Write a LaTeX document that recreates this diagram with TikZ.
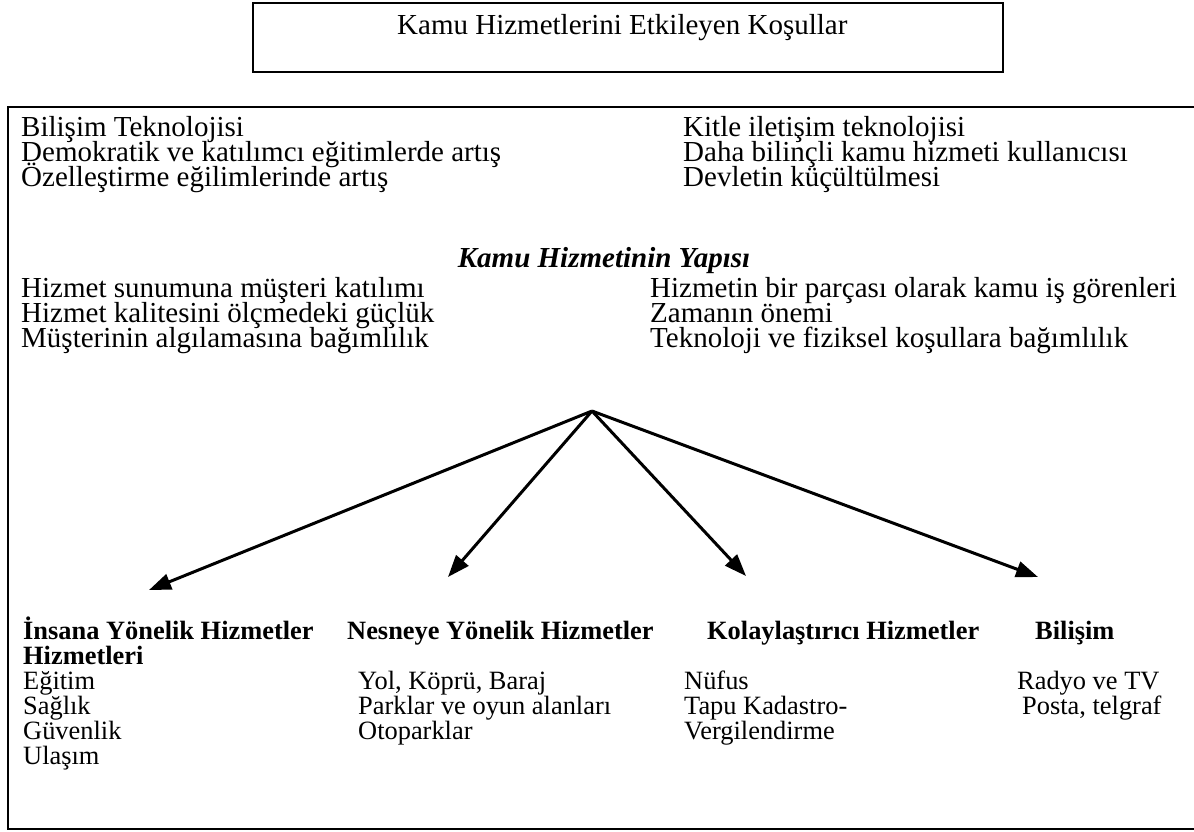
\documentclass[tikz,border=0pt]{standalone}
\usepackage{fontspec}
\setmainfont{Liberation Serif}
\usetikzlibrary{arrows.meta}
% fixed baseline distance inside multi-line blocks
\newcommand\fixedlines{\lineskiplimit=-100pt\relax\lineskip=0pt\relax}
\begin{document}
\begin{tikzpicture}[x=1pt,y=-1pt,
  big/.style={anchor=base west,inner sep=0pt,font=\fontsize{29}{25}\selectfont},
  % multi-line blocks: the base anchor sits on the baseline of the last line
  block/.style={anchor=base west,inner sep=0pt,align=left,
    font=\fontsize{29}{25}\selectfont\fixedlines},
  sblock/.style={anchor=base west,inner sep=0pt,align=left,
    font=\fontsize{26.4}{25}\selectfont\fixedlines},
  hblock/.style={anchor=base west,inner sep=0pt,align=left,
    font=\fontsize{26.4}{25}\selectfont\bfseries\fixedlines},
  hd/.style={anchor=base west,inner sep=0pt,font=\fontsize{26.4}{25}\selectfont\bfseries},
  frame/.style={draw=black,line width=2.5pt},
  arr/.style={line width=3pt,-{Triangle[length=22pt,width=16pt]}}]
\useasboundingbox (0,0) rectangle (1194,831);

% title box
\draw[frame] (253,3) rectangle (1003,72);
\node[big] (title) at (397,34) {Kamu Hizmetlerini Etkileyen Koşullar};

% main frame, open on the right
\draw[frame] (1200,107) -- (8,107) -- (8,829) -- (1200,829);

% conditions (first baseline 136, last 186)
\node[block] (cl) at (21,186) {Bilişim Teknolojisi\\
  Demokratik ve katılımcı eğitimlerde artış\\
  Özelleştirme eğilimlerinde artış};
\node[block] (cr) at (683,186) {Kitle iletişim teknolojisi\\
  Daha bilinçli kamu hizmeti kullanıcısı\\
  Devletin küçültülmesi};

% structure of public service (first baseline 297, last 347)
\node[anchor=base,inner sep=0pt,font=\fontsize{29}{25}\selectfont\bfseries\itshape] (yapi) at (604,267) {Kamu Hizmetinin Yapısı};
\node[block] (ml) at (21,347) {Hizmet sunumuna müşteri katılımı\\
  Hizmet kalitesini ölçmedeki güçlük\\
  Müşterinin algılamasına bağımlılık};
\node[block] (mr) at (650,347) {Hizmetin bir parçası olarak kamu iş görenleri\\
  Zamanın önemi\\
  Teknoloji ve fiziksel koşullara bağımlılık};

% arrows
\coordinate (hub) at (592,411);
\coordinate (t1) at (149,590);
\coordinate (t2) at (448,577);
\coordinate (t3) at (746,576);
\coordinate (t4) at (1038,577);
\draw[arr] (hub) -- (t1);
\draw[arr] (hub) -- (t2);
\draw[arr] (hub) -- (t3);
\draw[arr] (hub) -- (t4);

% service groups (headings on baseline 639, items from 689)
\node[hblock] (h1) at (23,664) {İnsana Yönelik Hizmetler\\Hizmetleri};
\node[hd] (h2) at (347,639) {Nesneye Yönelik Hizmetler};
\node[hd] (h3) at (707,639) {Kolaylaştırıcı Hizmetler};
\node[hd] (h4) at (1035,639) {Bilişim};

\node[sblock] (ga) at (23,764) {Eğitim\\Sağlık\\Güvenlik\\Ulaşım};
\node[sblock] (gb) at (358,739) {Yol, Köprü, Baraj\\Parklar ve oyun alanları\\Otoparklar};
\node[sblock] (gc) at (684,739) {Nüfus\\Tapu Kadastro-\\Vergilendirme};
\node[sblock] (gd) at (1017,714) {Radyo ve TV\\\hspace*{5pt}Posta, telgraf};
\end{tikzpicture}
\end{document}
